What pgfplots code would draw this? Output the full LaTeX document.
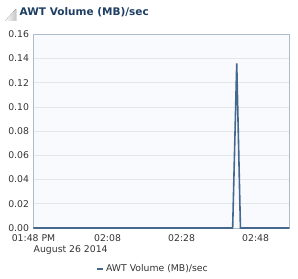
\documentclass[border=0pt]{standalone}
\usepackage{pgfplots}
\pgfplotsset{compat=1.18}
\usepackage{fontspec}
\setmainfont{DejaVu Sans}
\definecolor{linec}{HTML}{46688F}
\definecolor{titlec}{HTML}{1E3F63}
\definecolor{tickc}{HTML}{333333}
\definecolor{bgc}{HTML}{F9FAFE}
\definecolor{gridc}{HTML}{E3E6EB}
\definecolor{axc}{HTML}{AEBBCB}
\begin{document}
\begin{tikzpicture}
\path[use as bounding box] (0pt,0pt) rectangle (298pt,279pt);
\fill[left color=white,right color=gray!45] (5pt,258pt) -- (16pt,258pt) -- (16pt,270pt) -- cycle;
\node[anchor=west,inner sep=0pt,font=\fontsize{10.5}{12}\selectfont\bfseries,text=titlec] at (19.5pt,267pt) {AWT Volume (MB)/sec};
\begin{axis}[
  at={(33.5pt,51pt)}, anchor=origin,
  scale only axis, width=255.8pt, height=193.7pt,
  xmin=0, xmax=69.1, ymin=0, ymax=0.16,
  axis background/.style={fill=bgc},
  axis line style={draw=axc},
  ytick={0,0.02,...,0.16},
  yticklabel style={/pgf/number format/fixed,/pgf/number format/fixed zerofill,/pgf/number format/precision=2},
  /pgf/number format/assume math mode=true,
  xtick={0,20,40,60},
  xticklabels={01:48 PM,02:08,02:28,02:48},
  tick style={draw=none},
  ymajorgrids, grid style={draw=gridc, line width=0.6pt},
  ticklabel style={font=\fontsize{9.3}{11}\selectfont, text=tickc},
  xticklabel style={yshift=-3.2pt},
  yticklabel style={xshift=-1pt},
  clip=false,
  legend style={at={(0.467,-0.212)}, anchor=center, draw=none, fill=none, font=\fontsize{9.3}{11}\selectfont, text=tickc, inner sep=0pt},
  legend image code/.code={\draw[linec,line width=2pt] (0,0) -- (6pt,0);},
]
\addplot[linec, line width=1.6pt, line join=miter] coordinates {(0,0) (53.8,0) (54.9,0.136) (55.9,0) (69.1,0)};
\addlegendentry{AWT Volume (MB)/sec}
\node[anchor=north west, inner sep=0pt, font=\fontsize{9.3}{11}\selectfont, text=tickc] at (axis cs:0,0) [yshift=-17pt] {August 26 2014};
\end{axis}
\end{tikzpicture}
\end{document}
